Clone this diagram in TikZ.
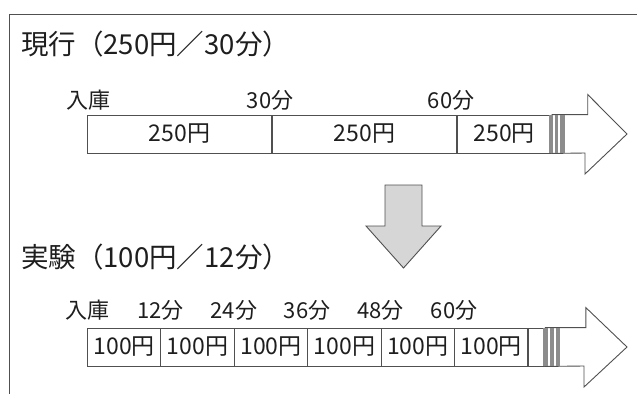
\documentclass[tikz,border=0pt]{standalone}
\usepackage{fontspec}
\setmainfont{Noto Sans CJK JP}
\usepackage{tikz}
\usetikzlibrary{positioning,calc}
\definecolor{parkInk}{HTML}{1E1E1E}
\definecolor{parkLine}{HTML}{505050}
\definecolor{parkStripe}{HTML}{8C8C8C}
\definecolor{parkFill}{HTML}{D6D6D6}
\tikzset{
  heading/.style={anchor=west,inner sep=0pt,text=parkInk,
    font=\fontsize{27.5}{31}\selectfont},
  tick/.style={anchor=base,inner sep=0pt,text=parkInk,
    font=\fontsize{22}{25}\selectfont},
  cell/.style={draw=parkLine,line width=.9pt,anchor=west,inner sep=0pt,
    minimum height=38pt,text=parkInk,font=\fontsize{23}{26}\selectfont},
  tail/.style={draw=parkLine,line width=.9pt,fill=white,line join=miter},
  stripe/.style={fill=parkStripe,draw=none},
  downarrow/.style={draw=parkLine,line width=.9pt,fill=parkFill}
}

\begin{document}
\begin{tikzpicture}[x=1pt,y=-1pt]
  \useasboundingbox (0,0) rectangle (637,394);
  \draw[parkLine,line width=.9pt] (637,14) -- (9,14) -- (9,394);

  % current tariff
  \node[heading] (nowTitle) at (21,44) {現行（250円／30分）};
  \node[cell,minimum width=184pt] (now1) at (87,134) {250円};
  \node[cell,minimum width=184pt] (now2) at (now1.east) {250円};
  \node[cell,minimum width=94pt] (now3) at (now2.east) {250円};
  \node[tick] (nowIn) at (88,108) {入庫};
  \node[tick] (now30) at (270,108) {30分};
  \node[tick] (now60) at (451,108) {60分};
  \draw[tail] (now3.north east) -- ++(36,0) -- ++(0,-20) -- (627,134)
       -- (585,174) -- ++(0,-21) -- (now3.south east);
  \foreach \a/\b in {549/553.3,555/558.3,560/565}
    \fill[stripe] (\a,115) rectangle (\b,153);

  % switch arrow
  \draw[downarrow] (385,185) -- (422,185) -- (422,226) -- (441,226) -- (403.5,268)
       -- (366,226) -- (385,226) -- cycle;

  % experiment tariff
  \node[heading] (expTitle) at (21,257) {実験（100円／12分）};
  \foreach \i in {0,...,5}
    \node[cell,minimum width=73.4pt] (exp\i) at (87+73.4*\i,347) {100円};
  \node[cell,minimum width=15.6pt] (exp6) at (exp5.east) {};
  \node[tick] (expIn) at (87,318) {入庫};
  \foreach \m [count=\k] in {12,24,36,48,60}
    \node[tick] (exp\m) at (87+73.4*\k,318) {{\m}分};
  \draw[tail] (exp6.north east) -- ++(41,0) -- ++(0,-20) -- (627,347)
       -- (584,387) -- ++(0,-21) -- (exp6.south east);
  \foreach \a/\b in {543/548.3,550/554,555.7/560}
    \fill[stripe] (\a,328) rectangle (\b,366);
\end{tikzpicture}
\end{document}
